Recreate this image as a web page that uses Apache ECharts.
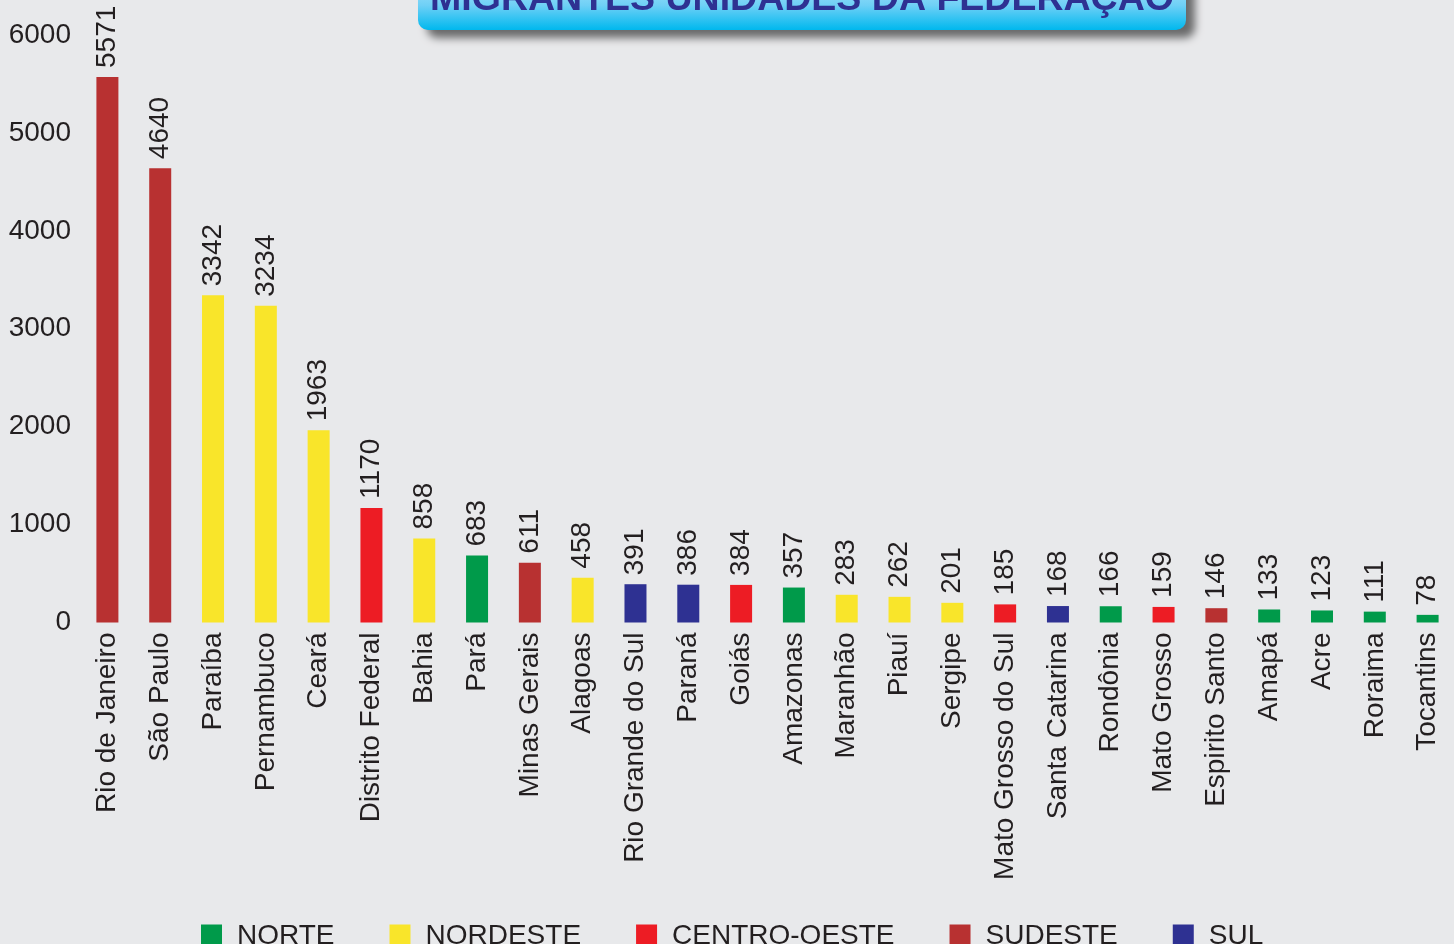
<!DOCTYPE html>
<html>
<head>
<meta charset="utf-8">
<script src="https://cdn.jsdelivr.net/npm/echarts@6/dist/echarts.min.js"></script>
<style>
  html, body {margin: 0; padding: 0; background: #e8e9eb;}
  #chart {width: 1454px; height: 944px;}
</style>
</head>
<body>
<div id="chart"></div>
<script>
// estados e número de migrantes
const estados = ['Rio de Janeiro', 'São Paulo', 'Paraíba', 'Pernambuco', 'Ceará', 'Distrito Federal', 'Bahia', 'Pará',
  'Minas Gerais', 'Alagoas', 'Rio Grande do Sul', 'Paraná', 'Goiás', 'Amazonas', 'Maranhão', 'Piauí', 'Sergipe',
  'Mato Grosso do Sul', 'Santa Catarina', 'Rondônia', 'Mato Grosso', 'Espirito Santo', 'Amapá', 'Acre', 'Roraima', 'Tocantins']
const migrantes = [5571, 4640, 3342, 3234, 1963, 1170, 858, 683, 611, 458, 391, 386, 384, 357, 283, 262, 201, 185, 168, 166, 159, 146, 133, 123, 111, 78]
const regiaoEstado = ['SUDESTE', 'SUDESTE', 'NORDESTE', 'NORDESTE', 'NORDESTE', 'CENTRO-OESTE', 'NORDESTE', 'NORTE',
  'SUDESTE', 'NORDESTE', 'SUL', 'SUL', 'CENTRO-OESTE', 'NORTE', 'NORDESTE', 'NORDESTE', 'NORDESTE',
  'CENTRO-OESTE', 'SUL', 'NORTE', 'CENTRO-OESTE', 'SUDESTE', 'NORTE', 'NORTE', 'NORTE', 'NORTE']
const regioes = ['NORTE', 'NORDESTE', 'CENTRO-OESTE', 'SUDESTE', 'SUL']
const cores = ['#009a4a', '#f9e52a', '#ed1c24', '#b83131', '#2e3192']
const yTicks = [0, 1000, 2000, 3000, 4000, 5000, 6000]

const fonte = '"Liberation Sans", Arial, sans-serif'
const corTexto = '#231f20'

const chart = echarts.init(document.getElementById('chart'))

// uma série por região, barras sobrepostas na mesma categoria
const series = regioes.map((reg, idx) => ({
  name: reg,
  type: 'bar',
  barWidth: 22,
  barGap: '-100%',
  itemStyle: {color: cores[idx]},
  label: {
    show: true,
    position: 'top',
    rotate: 90,
    align: 'left',
    verticalAlign: 'middle',
    distance: 9,
    fontSize: 28,
    fontFamily: fonte,
    color: corTexto
  },
  data: migrantes.map((v, i) => regiaoEstado[i] === reg ? v : '-')
}))

const option = {
  backgroundColor: '#e8e9eb',
  animation: false,
  grid: {left: 81, top: 35, width: 1375, height: 587.5},
  legend: {
    data: regioes,
    left: 196,
    top: 917,
    icon: 'rect',
    itemWidth: 21,
    itemHeight: 23,
    itemGap: 55,
    textStyle: {fontSize: 28, fontFamily: fonte, color: corTexto, padding: [0, 0, 0, 10]}
  },
  xAxis: {
    type: 'category',
    data: estados,
    axisLine: {show: false},
    axisTick: {show: false},
    axisLabel: {rotate: 90, interval: 0, margin: 10, fontSize: 28, fontFamily: fonte, color: corTexto}
  },
  yAxis: {
    type: 'value',
    min: yTicks[0],
    max: yTicks[yTicks.length - 1],
    interval: 1000,
    axisLine: {show: false},
    axisTick: {show: false},
    splitLine: {show: false},
    axisLabel: {margin: 10, fontSize: 28, fontFamily: fonte, color: corTexto, formatter: v => String(v)}
  },
  graphic: [
    {
      type: 'rect',
      shape: {x: 418, y: -25, width: 768, height: 55, r: 10},
      style: {
        fill: new echarts.graphic.LinearGradient(0, 0, 0, 1, [
          {offset: 0, color: '#b8e9fb'},
          {offset: 0.55, color: '#6fd0f6'},
          {offset: 1, color: '#00b8ee'}
        ]),
        shadowBlur: 8,
        shadowOffsetX: 9,
        shadowOffsetY: 8,
        shadowColor: 'rgba(0,0,0,0.55)'
      },
      z: 10
    },
    {
      type: 'text',
      x: 802,
      y: 0,
      style: {
        text: 'MIGRANTES UNIDADES DA FEDERAÇÃO',
        align: 'center',
        verticalAlign: 'middle',
        fontSize: 37.5,
        fontWeight: 'bold',
        fontFamily: fonte,
        fill: '#2e3192'
      },
      z: 11
    }
  ],
  series
}

chart.setOption(option)
window.addEventListener('resize', () => chart.resize())
</script>
</body>
</html>
